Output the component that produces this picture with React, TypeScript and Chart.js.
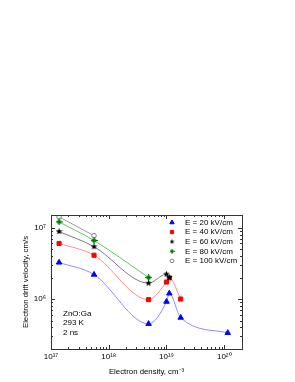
import React, { useEffect, useRef } from 'react';
import { Chart, registerables } from 'chart.js';
import { drawPoint } from 'chart.js/helpers';

Chart.register(...registerables);

// ---- data ----
const seriesLabels = ['E = 20 kV/cm', 'E = 40 kV/cm', 'E = 60 kV/cm', 'E = 80 kV/cm', 'E = 100 kV/cm'];

const density20 = [1.38e17, 5.56e17, 4.9e18, 1.0e19, 1.12e19, 1.76e19, 1.15e20];
const velocity20 = [3.25e6, 2.2e6, 4.5e5, 9.2e5, 1.2e6, 5.5e5, 3.36e5];

const density40 = [1.38e17, 5.56e17, 4.9e18, 1.0e19, 1.12e19, 1.76e19];
const velocity40 = [6.0e6, 4.1e6, 9.8e5, 1.73e6, 1.98e6, 1.0e6];

const density60 = [1.38e17, 5.56e17, 4.9e18, 1.0e19, 1.12e19];
const velocity60 = [8.8e6, 5.4e6, 1.67e6, 2.23e6, 2.0e6];

const density80 = [1.38e17, 5.56e17, 4.9e18];
const velocity80 = [1.2e7, 6.6e6, 2.0e6];

const density100 = [1.38e17, 5.56e17];
const velocity100 = [1.41e7, 7.7e6];

const xMajorExps = [17, 18, 19, 20];
const xTickLabels = ['10¹⁷', '10¹⁸', '10¹⁹', '10²⁰'];
const yMajorExps = [6, 7];
const yTickLabels = ['10⁶', '10⁷'];

const annotationLines = ['ZnO:Ga', '293 K', '2 ns'];

const X_MIN = 1e17;
const X_MAX = 2.03e20;
const Y_MIN = 2.0e5;
const Y_MAX = 1.5e7;

const FONT = "'Liberation Sans', Arial, sans-serif";

function makeStarCanvas(size: number, color: string) {
  const c = document.createElement('canvas');
  c.width = size;
  c.height = size;
  const g = c.getContext('2d')!;
  const cx = size / 2, cy = size / 2;
  const R = size / 2, r = R * 0.45;
  g.beginPath();
  for (let i = 0; i < 10; i++) {
    const a = -Math.PI / 2 + (i * Math.PI) / 5;
    const rr = i % 2 === 0 ? R : r;
    const px = cx + rr * Math.cos(a), py = cy + rr * Math.sin(a);
    if (i === 0) g.moveTo(px, py); else g.lineTo(px, py);
  }
  g.closePath();
  g.fillStyle = color;
  g.fill();
  return c;
}

function makeCrossCircleCanvas(size: number, color: string) {
  const c = document.createElement('canvas');
  c.width = size;
  c.height = size;
  const g = c.getContext('2d')!;
  const cx = size / 2, cy = size / 2;
  g.fillStyle = color;
  g.beginPath();
  g.arc(cx, cy, size * 0.33, 0, Math.PI * 2);
  g.fill();
  g.strokeStyle = color;
  g.lineWidth = 1;
  g.beginPath();
  g.moveTo(cx, 0); g.lineTo(cx, size);
  g.moveTo(0, cy); g.lineTo(size, cy);
  g.stroke();
  return c;
}

const styles = [
  { color: '#0000ff', line: '#8c8cff', pointStyle: 'triangle', radius: 3.2, fill: '#0000ff', order: 0 },
  { color: '#ff0000', line: '#ff8c8c', pointStyle: 'rect', radius: 2.9, fill: '#ff0000', order: 2 },
  { color: '#000000', line: '#7a7a7a', pointStyle: 'starImg', radius: 3, fill: '#000000', order: 1 },
  { color: '#008000', line: '#6cc06c', pointStyle: 'crossImg', radius: 3, fill: '#008000', order: 3 },
  { color: '#808080', line: '#9a9a9a', pointStyle: 'circle', radius: 2.3, fill: '#ffffff', order: 4 },
];

const allX = [density20, density40, density60, density80, density100];
const allY = [velocity20, velocity40, velocity60, velocity80, velocity100];

function labelFor(value: number, exps: number[], labels: string[]) {
  const e = Math.log10(value);
  for (let i = 0; i < exps.length; i++) {
    if (Math.abs(e - exps[i]) < 1e-6) return labels[i];
  }
  return '';
}

function resolveStyle(ps: string, color: string, size: number): any {
  if (ps === 'starImg') return makeStarCanvas(size, color);
  if (ps === 'crossImg') return makeCrossCircleCanvas(size, color);
  return ps;
}

const framePlugin = {
  id: 'framePlugin',
  afterDatasetsDraw(chart: any) {
    const { ctx, chartArea } = chart;
    const { left, right, top, bottom } = chartArea;
    const xs = chart.scales.x;
    const ys = chart.scales.y;
    ctx.save();
    ctx.strokeStyle = '#333333';
    ctx.lineWidth = 1;
    ctx.strokeRect(Math.round(left) + 0.5, Math.round(top) + 0.5, Math.round(right - left), Math.round(bottom - top));
    ctx.beginPath();
    for (let e = 16; e <= 21; e++) {
      for (let m = 1; m <= 9; m++) {
        const v = m * Math.pow(10, e);
        if (v < X_MIN * 0.999 || v > X_MAX) continue;
        const px = Math.round(xs.getPixelForValue(v)) + 0.5;
        const len = m === 1 ? 4 : 2;
        ctx.moveTo(px, bottom);
        ctx.lineTo(px, bottom - len);
        ctx.moveTo(px, top);
        ctx.lineTo(px, top + len);
      }
    }
    for (let e = 4; e <= 8; e++) {
      for (let m = 1; m <= 9; m++) {
        const v = m * Math.pow(10, e);
        if (v < Y_MIN * 0.999 || v > Y_MAX) continue;
        const py = Math.round(ys.getPixelForValue(v)) + 0.5;
        const len = m === 1 ? 4 : 2;
        ctx.moveTo(left, py);
        ctx.lineTo(left + len, py);
        ctx.moveTo(right, py);
        ctx.lineTo(right - len, py);
      }
    }
    ctx.stroke();

    // legend
    const lx = chartArea.left + 121;
    const ly0 = chartArea.top + 7.5;
    const dy = 9.6;
    ctx.font = `8px ${FONT}`;
    ctx.textBaseline = 'middle';
    ctx.textAlign = 'left';
    for (let i = 0; i < seriesLabels.length; i++) {
      const s = styles[i];
      const y = ly0 + i * dy;
      ctx.fillStyle = s.fill;
      ctx.strokeStyle = s.color;
      ctx.lineWidth = 1;
      drawPoint(ctx, { pointStyle: resolveStyle(s.pointStyle, s.color, 5), radius: s.radius * 0.8, rotation: 0, borderWidth: 1 }, lx, y);
      ctx.fillStyle = '#000000';
      ctx.fillText(seriesLabels[i], lx + 13, y);
    }

    // annotation
    ctx.fillStyle = '#000000';
    ctx.font = `8px ${FONT}`;
    for (let i = 0; i < annotationLines.length; i++) {
      ctx.fillText(annotationLines[i], chartArea.left + 12, chartArea.top + 98.5 + i * 9.5);
    }
    ctx.restore();
  },
};

export default function App() {
  const ref = useRef<HTMLCanvasElement | null>(null);
  useEffect(() => {
    if (!ref.current) return;
    const datasets = seriesLabels.map((label, i) => ({
      label,
      data: allX[i].map((x, j) => ({ x, y: allY[i][j] })),
      borderColor: styles[i].line,
      backgroundColor: styles[i].fill,
      pointBorderColor: styles[i].color,
      pointBackgroundColor: styles[i].fill,
      pointStyle: resolveStyle(styles[i].pointStyle, styles[i].color, 7),
      pointRadius: styles[i].radius,
      pointBorderWidth: 1,
      borderWidth: 1,
      cubicInterpolationMode: 'monotone' as const,
      order: styles[i].order,
      showLine: true,
      fill: false,
    }));
    const chart = new Chart(ref.current, {
      type: 'line',
      data: { datasets },
      options: {
        responsive: false,
        animation: false,
        devicePixelRatio: 1,
        layout: { padding: { top: 215, right: 53, left: 0, bottom: 0 } },
        plugins: { legend: { display: false }, tooltip: { enabled: false } },
        scales: {
          x: {
            type: 'logarithmic',
            min: X_MIN,
            max: X_MAX,
            grid: { display: false, drawTicks: false },
            border: { display: false },
            ticks: {
              autoSkip: false,
              maxRotation: 0,
              padding: 3,
              color: '#000',
              font: { size: 8, family: FONT },
              callback: (v: any) => labelFor(Number(v), xMajorExps, xTickLabels),
            },
            title: {
              display: true,
              text: 'Electron density, cm⁻³',
              color: '#000',
              font: { size: 7.8, family: FONT },
              padding: { top: 0, bottom: 5 },
            },
            afterFit: (s: any) => { s.height = 33; },
          },
          y: {
            type: 'logarithmic',
            min: Y_MIN,
            max: Y_MAX,
            grid: { display: false, drawTicks: false },
            border: { display: false },
            ticks: {
              autoSkip: false,
              padding: 5,
              color: '#000',
              font: { size: 8, family: FONT },
              callback: (v: any) => labelFor(Number(v), yMajorExps, yTickLabels),
            },
            title: {
              display: true,
              text: 'Electron drift velocity, cm/s',
              color: '#000',
              font: { size: 7.8, family: FONT },
              padding: { top: 21, bottom: 0 },
            },
            afterFit: (s: any) => { s.width = 51; },
          },
        },
      },
      plugins: [framePlugin],
    });
    return () => chart.destroy();
  }, []);
  return (
    <div style={{ position: 'fixed', left: 0, top: 0, width: 295, height: 382, background: '#fff' }}>
      <canvas ref={ref} width={295} height={382} style={{ width: 295, height: 382, display: 'block' }} />
    </div>
  );
}
